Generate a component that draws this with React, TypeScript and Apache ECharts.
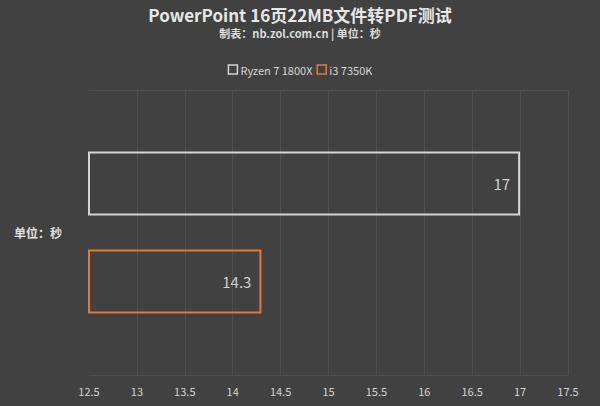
import React, { useEffect, useRef } from "react";
import * as echarts from "echarts";

const categories = ["单位：秒"];
const seriesNames = ["Ryzen 7 1800X", "i3 7350K"];
const ryzenValues = [17];
const i3Values = [14.3];
const seriesColors = ["#d4d4d4", "#e2783a"];

const FONT = "'Noto Sans CJK SC', 'Noto Sans', sans-serif";

export default function App() {
  const chartRef = useRef<HTMLDivElement>(null);

  useEffect(() => {
    document.body.style.margin = "0";
    if (!chartRef.current) return;
    const chart = echarts.init(chartRef.current, undefined, { renderer: "svg" });

    const barSeries = (name: string, values: number[], color: string) => ({
      name,
      type: "bar",
      data: values,
      barWidth: 64,
      barGap: "53%",
      itemStyle: {
        color: "rgba(0,0,0,0)",
        borderColor: color,
        borderWidth: 2,
      },
      label: {
        show: true,
        position: "insideRight",
        distance: 10,
        color: "#cfcfcf",
        fontSize: 15,
        fontFamily: FONT,
      },
    });

    chart.setOption({
      animation: false,
      backgroundColor: "#414141",
      textStyle: { fontFamily: FONT },
      title: {
        text: "PowerPoint 16页22MB文件转PDF测试",
        subtext: "制表：nb.zol.com.cn | 单位：秒",
        left: "center",
        top: 1,
        itemGap: 5,
        textStyle: {
          color: "#e6e6e6",
          fontSize: 17,
          fontWeight: "bold",
          fontFamily: FONT,
        },
        subtextStyle: {
          color: "#dcdcdc",
          fontSize: 11,
          fontWeight: "bold",
          fontFamily: FONT,
        },
      },
      legend: {
        data: seriesNames.map((n, i) => ({
          name: n,
          itemStyle: { color: "rgba(0,0,0,0)", borderColor: seriesColors[i], borderWidth: 1.5 },
        })),
        top: 59,
        left: "center",
        itemWidth: 9,
        itemHeight: 9,
        itemGap: 4,
        icon: "rect",
        textStyle: { color: "#d6d6d6", fontSize: 11, fontFamily: FONT, padding: [0, 0, 0, -2] },
      },
      grid: { left: 89, right: 32, top: 90, bottom: 31 },
      xAxis: {
        type: "value",
        min: 12.5,
        max: 17.5,
        interval: 0.5,
        axisLine: { show: false },
        axisTick: { show: false },
        axisLabel: { color: "#d4d4d4", fontSize: 11, margin: 10, fontFamily: FONT },
        splitLine: { show: true, showMinLine: false, lineStyle: { color: "#4f4f4f", width: 1 } },
      },
      yAxis: {
        type: "category",
        data: categories,
        inverse: true,
        axisLine: { show: false },
        axisTick: { show: false },
        axisLabel: { color: "#e0e0e0", fontSize: 12, fontWeight: "bold", margin: 27, fontFamily: FONT },
        splitLine: { show: true, lineStyle: { color: "#4f4f4f", width: 1 } },
      },
      series: [
        barSeries(seriesNames[0], ryzenValues, seriesColors[0]),
        barSeries(seriesNames[1], i3Values, seriesColors[1]),
      ],
    });

    return () => chart.dispose();
  }, []);

  return <div ref={chartRef} style={{ width: 600, height: 406 }} />;
}
